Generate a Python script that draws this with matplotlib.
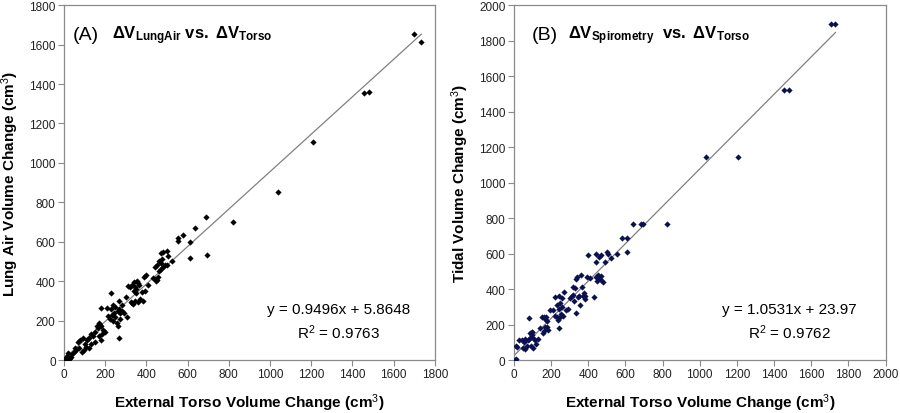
import matplotlib
matplotlib.use("Agg")
import matplotlib.pyplot as plt
import numpy as np

plt.rcParams['font.family'] = ['Liberation Sans', 'DejaVu Sans']
plt.rcParams['mathtext.fontset'] = 'custom'
plt.rcParams['mathtext.rm'] = 'Liberation Sans'
plt.rcParams['mathtext.bf'] = 'Liberation Sans:bold'
plt.rcParams['mathtext.it'] = 'Liberation Sans:italic'

# Panel A: lung air volume change vs external torso volume change
torso_a = [1700, 1735, 1455, 1480, 1210, 1040, 820, 690, 695, 635,
           580, 555, 555, 610, 610, 525, 500, 480, 470, 505,
           460, 470, 450, 480, 490, 440, 470, 460, 500, 475,
           440, 445, 430, 450, 455, 400, 390, 410, 395, 380,
           370, 385, 330, 340, 345, 355, 350, 360, 340, 320,
           310, 365, 350, 330, 335, 345, 360, 325, 300, 305,
           230, 240, 250, 260, 245, 235, 250, 265, 270, 280,
           290, 230, 225, 240, 255, 265, 280, 270, 215, 260,
           265, 180, 210, 170, 175, 160, 165, 180, 190, 185,
           200, 150, 140, 170, 180, 150, 130, 120, 110, 100,
           120, 90, 80, 70, 75, 85, 60, 50, 40, 55,
           95, 105, 130, 5, 10, 15, 20, 25, 30, 0,
           10, 35]
lung_a = [1655, 1615, 1355, 1360, 1105, 850, 700, 725, 535, 670,
          635, 620, 605, 600, 520, 500, 555, 550, 545, 530,
          500, 490, 480, 470, 480, 470, 460, 450, 480, 510,
          410, 400, 415, 405, 420, 430, 420, 380, 350, 345,
          310, 300, 380, 395, 370, 400, 360, 390, 350, 370,
          375, 380, 340, 290, 285, 300, 295, 295, 320, 220,
          340, 280, 270, 250, 240, 230, 220, 260, 240, 250,
          240, 260, 210, 200, 190, 300, 280, 210, 225, 175,
          110, 265, 265, 190, 180, 175, 160, 170, 150, 130,
          140, 140, 120, 120, 100, 90, 130, 110, 100, 80,
          60, 110, 100, 90, 60, 40, 50, 40, 30, 60,
          50, 65, 80, 5, 10, 20, 35, 5, 10, 0,
          2, 15]

# Panel B: tidal volume (spirometry) vs external torso volume change
torso_b = [1705, 1730, 1455, 1480, 1035, 1205, 825, 640, 685, 695,
           580, 610, 610, 555, 525, 500, 490, 505, 400, 440,
           460, 470, 440, 455, 470, 440, 460, 470, 480, 445,
           410, 395, 430, 340, 335, 360, 320, 330, 365, 375,
           370, 350, 320, 310, 300, 325, 345, 355, 380, 385,
           335, 290, 280, 270, 260, 220, 240, 250, 230, 260,
           240, 210, 220, 230, 250, 255, 265, 235, 240, 195,
           175, 170, 180, 160, 150, 165, 160, 155, 180, 185,
           140, 80, 95, 85, 100, 100, 90, 80, 75, 110,
           120, 115, 130, 70, 60, 50, 55, 45, 30, 60,
           90, 105, 10, 15, 5, 10]
tidal_b = [1895, 1895, 1520, 1520, 1145, 1145, 765, 765, 765, 765,
           690, 690, 610, 600, 575, 610, 555, 600, 590, 600,
           580, 590, 555, 480, 475, 470, 460, 450, 440, 445,
           460, 470, 355, 470, 455, 480, 410, 405, 410, 380,
           360, 360, 365, 360, 350, 330, 355, 310, 360, 345,
           265, 290, 280, 385, 350, 355, 360, 320, 310, 300,
           290, 280, 250, 240, 240, 260, 250, 225, 180, 280,
           240, 230, 220, 240, 240, 185, 165, 155, 185, 170,
           180, 235, 160, 150, 160, 140, 130, 120, 110, 120,
           90, 110, 120, 80, 60, 70, 100, 110, 115, 120,
           80, 70, 80, 75, 0, 5]

fit_a = (0.9496, 5.8648)
fit_b = (1.0531, 23.97)
r2_a = 0.9763
r2_b = 0.9762

fig = plt.figure(figsize=(9, 4.14), dpi=100)
ax1 = fig.add_axes([0.0711, 0.128, 0.412, 0.857])
ax2 = fig.add_axes([0.571, 0.128, 0.413, 0.857])

def style_axes(ax, xmax, ymax, ylabel):
    ax.set_xlim(0, xmax)
    ax.set_ylim(0, ymax)
    ax.set_xticks(np.arange(0, xmax + 1, 200))
    ax.set_yticks(np.arange(0, ymax + 1, 200))
    for s in ax.spines.values():
        s.set_color('#8a8a8a')
        s.set_linewidth(0.9)
    ax.tick_params(direction='out', length=4, width=0.8, color='#8a8a8a',
                   labelsize=8.5, labelcolor='#222222', pad=2)
    ax.set_xlabel('External Torso Volume Change (cm$^3$)', fontsize=11,
                  fontweight='bold', labelpad=8)
    ax.set_ylabel(ylabel, fontsize=11, fontweight='bold', labelpad=6)

def draw_panel(ax, x, y, fit, r2, color):
    x = np.array(x)
    xs = np.array([x.min(), x.max()])
    ax.plot(xs, fit[0] * xs + fit[1], color='#808080', lw=0.9, zorder=2)
    ax.scatter(x, y, marker='D', s=10, color=color, lw=0, zorder=3)
    ax.text(0.74, 0.144, 'y = %.4fx + %s' % (fit[0], ('%.4f' % fit[1]).rstrip('0')),
            transform=ax.transAxes, ha='center', va='center', fontsize=11)
    ax.text(0.74, 0.079, 'R$^2$ = %.4f' % r2, transform=ax.transAxes,
            ha='center', va='center', fontsize=11)

style_axes(ax1, 1800, 1800, 'Lung Air Volume Change (cm$^3$)')
style_axes(ax2, 2000, 2000, 'Tidal Volume Change (cm$^3$)')
draw_panel(ax1, torso_a, lung_a, fit_a, r2_a, 'black')
draw_panel(ax2, torso_b, tidal_b, fit_b, r2_b, '#0b1150')

ax1.text(0.024, 0.918, '(A)', transform=ax1.transAxes, fontsize=14, va='center')
ax1.text(0.129, 0.918,
         r'$\mathbf{\Delta V}_{\mathbf{LungAir}}$ $\mathbf{vs.}$ $\mathbf{\Delta V}_{\mathbf{Torso}}$',
         transform=ax1.transAxes, fontsize=12, va='center')
ax2.text(0.048, 0.918, '(B)', transform=ax2.transAxes, fontsize=14, va='center')
ax2.text(0.145, 0.918,
         r'$\mathbf{\Delta V}_{\mathbf{Spirometry}}$  $\mathbf{vs.}$ $\mathbf{\Delta V}_{\mathbf{Torso}}$',
         transform=ax2.transAxes, fontsize=12, va='center')

fig.savefig('out.png', dpi=100)
